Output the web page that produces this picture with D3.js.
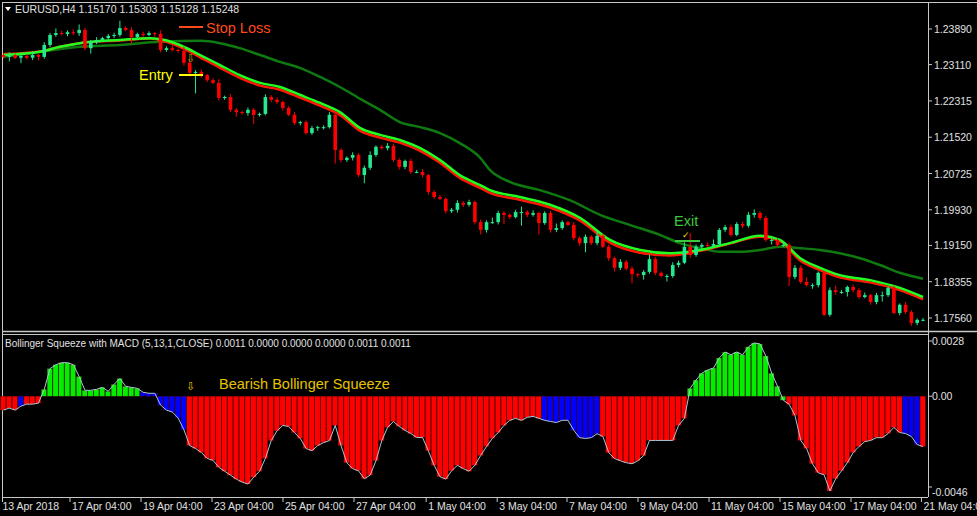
<!DOCTYPE html>
<html><head><meta charset="utf-8">
<script src="https://cdn.jsdelivr.net/npm/d3@7/dist/d3.min.js"></script>
<style>body{margin:0;background:#000}svg{display:block}text{font-family:"Liberation Sans",Arial,sans-serif}</style>
</head><body><svg id="c" width="977" height="516"></svg>
<script>
// ---- data ----
const closes=[1.2328,1.2332,1.2326,1.2330,1.2326,1.2332,1.2328,1.2354,1.2376,1.2380,1.2378,1.2382,1.2380,1.2387,1.2347,1.2361,1.2365,1.2369,1.2374,1.2376,1.2391,1.2387,1.2371,1.2378,1.2376,1.2380,1.2378,1.2343,1.2347,1.2343,1.2341,1.2315,1.2293,1.2295,1.2288,1.2277,1.2271,1.2238,1.2240,1.2212,1.2207,1.2205,1.2212,1.2201,1.2203,1.2240,1.2234,1.2229,1.2216,1.2201,1.2183,1.2185,1.2161,1.2172,1.2174,1.2174,1.2201,1.2124,1.2102,1.2107,1.2113,1.2069,1.2085,1.2113,1.2131,1.2128,1.2133,1.2102,1.2087,1.2100,1.2076,1.2076,1.2069,1.2032,1.2021,1.2017,1.1990,1.1993,1.2008,1.2004,1.2010,1.1966,1.1949,1.1966,1.1966,1.1986,1.1982,1.1977,1.1988,1.1988,1.1982,1.1986,1.1964,1.1986,1.1949,1.1953,1.1966,1.1960,1.1931,1.1920,1.1934,1.1920,1.1936,1.1912,1.1887,1.1866,1.1879,1.1864,1.1852,1.1850,1.1857,1.1885,1.1855,1.1848,1.1848,1.1872,1.1877,1.1912,1.1894,1.1912,1.1916,1.1914,1.1918,1.1949,1.1955,1.1938,1.1962,1.1958,1.1982,1.1986,1.1975,1.1927,1.1927,1.1916,1.1916,1.1846,1.1866,1.1835,1.1828,1.1828,1.1855,1.1763,1.1817,1.1813,1.1813,1.1824,1.1817,1.1802,1.1806,1.1791,1.1806,1.1806,1.1822,1.1767,1.1785,1.1769,1.1745,1.1752,1.1752];
const wickUp=[4,6,3,5,4,8,3,6,4,10,5,4,6,12,5,4,6,3,4,5,16,4,6,3,5,4,3,8,4,6,3,10,6,4,5,3,4,8,3,6,4,3,5,4,3,6,4,5,3,4,6,3,4,5,3,4,6,5,4,3,6,4,5,8,3,4,6,5,4,3,5,4,6,3,4,5,3,4,6,4,5,3,6,4,10,5,4,3,5,12,4,6,3,4,5,10,4,3,6,4,5,3,12,4,5,3,6,4,5,3,4,10,5,3,4,6,5,10,30,5,4,6,10,4,5,6,4,5,6,8,4,5,4,3,5,4,6,5,10,4,3,5,6,10,4,3,5,4,6,3,5,8,4,5,3,6,4,3,4];
const wickDn=[4,10,3,12,4,5,8,4,5,4,3,5,4,6,4,12,5,4,3,5,4,3,14,5,4,3,6,5,4,3,4,6,8,45,5,4,3,6,4,5,10,4,6,20,4,3,5,4,6,3,4,5,3,4,6,5,3,30,5,4,6,4,18,5,4,3,5,4,6,5,4,3,5,6,4,3,5,4,6,5,4,5,10,6,4,5,20,4,3,30,5,4,25,4,6,5,4,3,5,6,20,4,5,3,6,8,5,4,20,5,10,4,5,3,12,4,5,3,6,4,5,3,4,6,5,4,3,5,4,6,5,4,10,5,4,20,5,4,3,8,5,3,4,6,4,10,5,4,3,6,5,14,4,3,5,4,6,5,3];
const fastX=[0,6.3,9.7,13.1,20,25.2,27.7,30.3,33.8,37.2,40.6,44.1,47.5,50.9,54.4,57.8,61.3,64.7,68.1,71.6,75,78.4,81.9,83.6,88.7,93.9,99.1,104.2,109.4,114.5,119.7,124.8,130,133.4,136.9,140.3,143.7,148.9,154,158];
const fastMA=[1.2332,1.2339,1.2350,1.2358,1.2365,1.2369,1.2365,1.2354,1.2332,1.2310,1.2288,1.2271,1.2262,1.2245,1.2227,1.2207,1.2172,1.2157,1.2146,1.2128,1.2102,1.2069,1.2047,1.2036,1.2021,1.2004,1.1975,1.1927,1.1905,1.1898,1.1905,1.1920,1.1936,1.1927,1.1887,1.1866,1.1850,1.1839,1.1822,1.1802];
const redMA=[1.2334,1.2340,1.2350,1.2358,1.2364,1.2368,1.2362,1.2350,1.2327,1.2304,1.2282,1.2265,1.2256,1.2239,1.2221,1.2201,1.2166,1.2151,1.2140,1.2122,1.2096,1.2063,1.2041,1.2030,1.2015,1.1998,1.1969,1.1921,1.1899,1.1893,1.1903,1.1919,1.1934,1.1925,1.1882,1.1861,1.1845,1.1834,1.1817,1.1797];
const slowX=[0,6.3,13.1,20,26.9,33.8,37.2,40.6,44.1,47.5,50.9,54.4,57.8,61.3,64.7,68.1,71.6,75,78.4,81.9,83.6,87,92.2,97.3,102.5,107.6,112.8,116.2,119.7,123.1,126.5,130,133.4,136.9,140.3,143.7,147.2,150.6,154,158];
const slowMA=[1.2328,1.2339,1.2350,1.2354,1.2361,1.2363,1.2358,1.2347,1.2332,1.2317,1.2304,1.2284,1.2262,1.2236,1.2212,1.2185,1.2174,1.2161,1.2139,1.2107,1.2080,1.2054,1.2036,1.2014,1.1982,1.1960,1.1938,1.1920,1.1909,1.1901,1.1901,1.1905,1.1912,1.1909,1.1905,1.1898,1.1887,1.1872,1.1855,1.1842];
// histogram, units of 0.0001
const hist=[-7,-6,-7,-5,-4,-4,-3.5,3.5,14,16,17,17,16,10,3,3,3.5,4.5,2.5,6,9,5,4.5,4,2,1.5,1.5,-4.5,-7,-8,-11,-17,-25,-26.5,-28.5,-31.5,-32.5,-36,-38,-40,-42,-43.5,-44.5,-41,-38,-31.5,-22.5,-17.5,-14.8,-15.3,-18.4,-21.4,-26.5,-27.6,-25,-23.5,-22.5,-14.8,-25,-33.7,-36.7,-37.8,-41.8,-40,-32.7,-22.5,-15.8,-12.8,-15.3,-17.3,-18.9,-20.9,-20.9,-27.6,-35,-40.8,-42,-37.8,-35,-36.7,-38,-35,-30,-25.5,-21.4,-18.4,-14.8,-12.2,-11.2,-12.2,-10.7,-10.2,-11.2,-12.2,-12.8,-13.3,-12.2,-12.2,-17.3,-21,-21.4,-21,-19,-20.4,-28.6,-31.6,-32.7,-33.7,-34.2,-32.7,-30.1,-22.4,-22.4,-22.4,-22.4,-22.4,-14.8,-11.2,4,8.2,11.7,13.3,14.3,19.4,22.4,21,22.4,21,25,27,26.5,20.4,11.7,5.1,-2,-4.1,-9.7,-22.4,-26.5,-34.2,-38.8,-39.8,-48,-41.8,-37.8,-33.7,-28.6,-25.5,-23,-22.4,-21,-21,-18.9,-15.8,-18.4,-18.9,-20.4,-24.5,-25.5];
const histState="rrrbrrrgggggggggggggggggbbbbbbbbrrrrrrrrrrrrrrrrrrrrrrrrrrrrrrrrrrrrrrrrrrrrrrrrrrrrrrrrrrrrrbbbbbbbbbbrrrrrrrrrrrrrrrgggggggggggggggggrrrrrrrrrrrrrrrrrrrrbbbrr".split("");
const priceTicks=[1.23890,1.23110,1.22315,1.21520,1.20725,1.19930,1.19150,1.18355,1.17560];
const histTicks=[0.0028,0,-0.0046];
const histTickLabels=["0.0028","0.00","-0.0046"];
const dateTickIdx=[0,11.6,23.8,36,48.2,60.4,72.8,85,97,109.2,121.4,133.6,145.8,157.9];
const dateLabels=["13 Apr 2018","17 Apr 04:00","19 Apr 04:00","23 Apr 04:00","25 Apr 04:00","27 Apr 04:00","1 May 04:00","3 May 04:00","7 May 04:00","9 May 04:00","11 May 04:00","15 May 04:00","17 May 04:00","21 May 04:00"];

// ---- drawing ----
const svg=d3.select("#c");
svg.append("rect").attr("width",977).attr("height",516).attr("fill","#000");
const x=d3.scaleLinear().domain([0,158]).range([3.5,923]);
const y=d3.scaleLinear().domain([1.1756,1.2389]).range([318,29]);
const yh=d3.scaleLinear().domain([-0.0046,0.0028]).range([487,341]);
const grey="#c8c8c8";
svg.append("line").attr("x1",2).attr("x2",977).attr("y1",2.5).attr("y2",2.5).attr("stroke",grey);
svg.append("line").attr("x1",2.5).attr("x2",2.5).attr("y1",2).attr("y2",497).attr("stroke",grey);
svg.append("line").attr("x1",928.5).attr("x2",928.5).attr("y1",2).attr("y2",497).attr("stroke",grey);
svg.append("line").attr("x1",2).attr("x2",977).attr("y1",331.5).attr("y2",331.5).attr("stroke",grey).attr("stroke-width",1.5);
svg.append("line").attr("x1",2).attr("x2",928).attr("y1",334.5).attr("y2",334.5).attr("stroke",grey);
svg.append("line").attr("x1",2).attr("x2",928).attr("y1",497.5).attr("y2",497.5).attr("stroke",grey);

const main=svg.append("g");
const ln=(xs,vs)=>d3.line().x((d,i)=>x(xs[i])).y(d=>y(d)).curve(d3.curveMonotoneX)(vs);
main.append("path").attr("d",ln(slowX,slowMA)).attr("fill","none").attr("stroke","#0f7a10").attr("stroke-width",2.5);
main.append("path").attr("d",ln(fastX,redMA)).attr("fill","none").attr("stroke","#ff1a00").attr("stroke-width",2.5);
main.append("path").attr("d",ln(fastX,fastMA)).attr("fill","none").attr("stroke","#22ff22").attr("stroke-width",2.5);
const cdata=closes.map((c,i)=>{const o=i?closes[i-1]:c+0.0004;return{i,o,c,h:Math.max(o,c)+wickUp[i]/10000,l:Math.min(o,c)-wickDn[i]/10000};});
const cg=main.selectAll("g.c").data(cdata).join("g");
cg.append("line").attr("x1",d=>x(d.i)).attr("x2",d=>x(d.i)).attr("y1",d=>y(d.h)).attr("y2",d=>y(d.l))
  .attr("stroke",d=>d.c>=d.o?"#26e890":"#ff0000");
cg.append("rect").attr("x",d=>x(d.i)-1.8).attr("width",3.6)
  .attr("y",d=>y(Math.max(d.o,d.c))).attr("height",d=>Math.max(1,Math.abs(y(d.o)-y(d.c))))
  .attr("fill",d=>d.c>=d.o?"#26e890":"#ff0000");
priceTicks.forEach(t=>{svg.append("line").attr("x1",928).attr("x2",932).attr("y1",y(t)).attr("y2",y(t)).attr("stroke",grey);
 svg.append("text").attr("x",934).attr("y",y(t)+4).attr("fill","#e0e0e0").attr("font-size",10.5).text(t.toFixed(5));});
const bw=5.82;
svg.selectAll("rect.h").data(hist).join("rect")
 .attr("x",(d,i)=>x(i)-bw/2).attr("width",bw-0.6)
 .attr("y",d=>Math.min(yh(d/1e4),yh(0))).attr("height",d=>Math.abs(yh(d/1e4)-yh(0)))
 .attr("fill",(d,i)=>({r:"#ff0000",g:"#00ee00",b:"#0000ff"})[histState[i]])
 .attr("stroke","#600").attr("stroke-width",0.3);
svg.append("path").attr("d",d3.line().x((d,i)=>x(i)).y(d=>yh(d/1e4))(hist)).attr("fill","none").attr("stroke","#a8c8d8").attr("stroke-width",1);
histTicks.forEach((t,k)=>{svg.append("line").attr("x1",928).attr("x2",932).attr("y1",yh(t)).attr("y2",yh(t)).attr("stroke",grey);
 svg.append("text").attr("x",932).attr("y",(k==2?492:yh(t))+4).attr("fill","#e0e0e0").attr("font-size",10.5).text(histTickLabels[k]);});
dateTickIdx.forEach((t,k)=>{svg.append("line").attr("x1",x(t)-1).attr("x2",x(t)-1).attr("y1",497).attr("y2",502).attr("stroke",grey);
 svg.append("text").attr("x",x(t)-1+(k==0?0:2)).attr("y",510).attr("fill","#e0e0e0").attr("font-size",10.5).text(dateLabels[k]);});
svg.append("path").attr("d","M5,7 L11,7 L8,11 Z").attr("fill","#fff");
svg.append("text").attr("x",15).attr("y",13).attr("fill","#e0e0e0").attr("font-size",10.5).text("EURUSD,H4  1.15170 1.15303 1.15128 1.15248");
svg.append("text").attr("x",5).attr("y",347).attr("fill","#e0e0e0").attr("font-size",10).text("Bollinger Squeeze with MACD (5,13,1,CLOSE) 0.0011 0.0000 0.0000 0.0000 0.0011 0.0011");
svg.append("line").attr("x1",179).attr("x2",203).attr("y1",27).attr("y2",27).attr("stroke","#ff4a1a").attr("stroke-width",2);
svg.append("text").attr("x",206).attr("y",33).attr("fill","#ff4a1a").attr("font-size",14.5).text("Stop Loss");
svg.append("line").attr("x1",179).attr("x2",203).attr("y1",75).attr("y2",75).attr("stroke","#ffff00").attr("stroke-width",2);
svg.append("text").attr("x",139).attr("y",80).attr("fill","#ffff00").attr("font-size",14.5).text("Entry");
svg.append("text").attr("x",186).attr("y",62).attr("fill","#c8a000").attr("font-size",11).text("⇩");
svg.append("text").attr("x",674).attr("y",226).attr("fill","#3cc83c").attr("font-size",14.5).text("Exit");
svg.append("text").attr("x",682).attr("y",238).attr("fill","#ffd700").attr("font-size",9).text("✓");
svg.append("line").attr("x1",675).attr("x2",700).attr("y1",241).attr("y2",241).attr("stroke","#3cc83c").attr("stroke-width",2);
svg.append("text").attr("x",186).attr("y",390).attr("fill","#e6c200").attr("font-size",11).text("⇩");
svg.append("text").attr("x",219).attr("y",389).attr("fill","#e6c200").attr("font-size",14.5).text("Bearish Bollinger Squeeze");
</script></body></html>
